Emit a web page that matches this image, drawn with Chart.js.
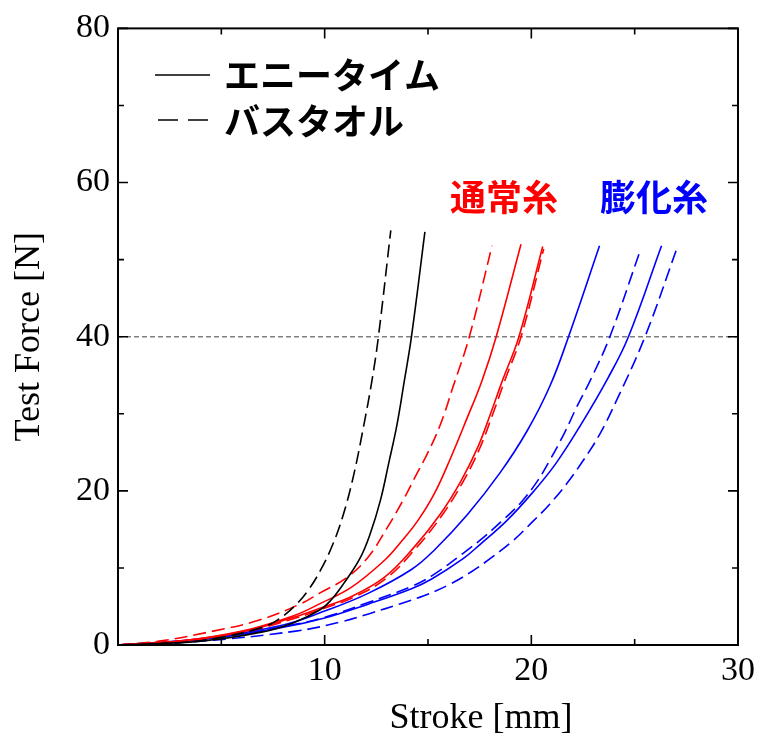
<!DOCTYPE html>
<html>
<head>
<meta charset="utf-8">
<script src="https://cdn.jsdelivr.net/npm/chart.js@4.4.1/dist/chart.umd.min.js"></script>
<style>
  html, body { margin: 0; padding: 0; background: #fff; }
</style>
</head>
<body>
<canvas id="force-chart" width="761" height="742"></canvas>
<script>
// values (stroke in mm, force in N)
const blackSolidX = [0, 4, 7, 8.5, 9.8, 10.3, 10.9, 11.7, 12.2, 12.7, 13.1, 13.5, 13.85, 14.2, 14.85];
const blackSolidY = [0, 0.5, 1.7, 2.9, 4.6, 5.8, 7.9, 11.2, 14.4, 18.8, 23.6, 28.6, 34.2, 40, 53.6];
const blackDashX = [0, 3, 5, 7, 7.8, 8.6, 9.2, 9.8, 10.4, 10.9, 11.4, 11.9, 12.3, 12.6, 13.2];
const blackDashY = [0, 0.3, 1.0, 2.3, 3.4, 5.2, 7.1, 9.7, 13.1, 16.9, 22.0, 28.6, 34.5, 40, 53.8];

const redDash1X = [0, 2, 4.6, 6.8, 8.8, 9.8, 11.1, 12.1, 13.0, 13.8, 14.3, 15.0, 15.6, 16.2, 17.0, 18.1];
const redDash1Y = [0, 0.5, 1.8, 3.2, 5.3, 6.8, 8.8, 11.4, 15.1, 18.8, 21.4, 25.0, 28.6, 33.4, 40, 51.8];
const redSolid1X = [0, 3, 6, 8.5, 9.8, 11.3, 12.9, 13.7, 14.5, 15.3, 16.1, 16.9, 17.6, 18.3, 19.5];
const redSolid1Y = [0, 0.5, 1.8, 3.8, 5.4, 7.5, 11.0, 13.4, 16.1, 19.6, 24.3, 29.5, 34.2, 40, 52];
const redSolid2X = [0, 3, 6, 8.5, 9.8, 11.3, 12.9, 14.3, 15.6, 16.6, 17.4, 18.0, 18.6, 19.4, 20.55];
const redSolid2Y = [0, 0.5, 1.7, 3.6, 4.8, 6.3, 8.8, 12.6, 17.0, 21.3, 25.6, 29.8, 34.3, 40, 51.7];
const redDash2X = [0, 3, 6, 8.6, 9.9, 11.4, 13.0, 14.4, 15.7, 16.7, 17.5, 18.1, 18.7, 19.5, 20.6];
const redDash2Y = [0, 0.5, 1.6, 3.5, 4.7, 6.2, 8.7, 12.5, 16.9, 21.2, 25.5, 29.7, 34.2, 40, 51.4];

const blueSolid1X = [0, 4, 8, 10.1, 12.1, 14.2, 15.3, 16.9, 18.5, 19.8, 20.9, 21.8, 23.3];
const blueSolid1Y = [0, 0.8, 2.6, 4.5, 6.7, 9.8, 12.3, 16.9, 22.4, 27.8, 33.6, 40, 51.8];
const blueSolid2X = [0, 4, 8, 10, 12.1, 14.2, 15.2, 16.7, 17.5, 18.8, 20.1, 21.2, 22.4, 23.7, 24.7, 26.3];
const blueSolid2Y = [0, 0.7, 2.3, 3.5, 5.3, 7.3, 8.6, 11.2, 13.0, 16.1, 19.9, 23.6, 28.6, 34.6, 40, 51.8];
const blueDash1X = [0, 4, 8, 10, 12.1, 14.2, 15.2, 16.7, 17.7, 18.5, 19.5, 20.3, 20.9, 21.6, 22.2, 22.9, 23.8, 25.3];
const blueDash1Y = [0, 0.7, 2.4, 3.6, 5.5, 7.6, 9.0, 11.9, 14.0, 15.9, 18.5, 21.3, 24.0, 27.5, 30.9, 34.6, 40, 51.4];
const blueDash2X = [0, 4, 8.6, 10.8, 12.2, 13.6, 14.8, 16.0, 17.1, 18.1, 19.1, 20.1, 20.9, 21.7, 22.5, 23.3, 24.1, 25.5, 27.1];
const blueDash2Y = [0, 0.5, 1.8, 3.0, 4.1, 5.3, 6.4, 7.8, 9.5, 11.4, 13.5, 16.1, 18.3, 20.9, 23.9, 27.3, 31.6, 40, 51.9];

const refForce = 40;
const xMajor = [0, 10, 20, 30];
const xMinor = [5, 15, 25];
const yMajor = [0, 20, 40, 60, 80];
const yMinor = [10, 30, 50, 70];

const xTitle = 'Stroke [mm]';
const yTitle = 'Test Force [N]';
const legendLabels = ['エニータイム', 'バスタオル'];
const groupLabels = ['通常糸', '膨化糸'];

const RED = '#ff0000';
const BLUE = '#0000ff';
const DASH = [13, 6];

const toPoints = (xs, ys) => xs.map((x, i) => ({ x, y: ys[i] }));

const curve = (xs, ys, color, dashed) => ({
  data: toPoints(xs, ys),
  borderColor: color,
  borderWidth: 1.6,
  borderDash: dashed ? DASH : [],
  pointRadius: 0,
  showLine: true,
  fill: false,
  tension: 0.4,
});

// inward ticks, frame, x title, legend and group labels
const decorations = {
  id: 'decorations',
  afterDatasetsDraw(chart) {
    const { ctx, chartArea: a, scales: { x, y } } = chart;
    ctx.save();
    ctx.strokeStyle = '#000';
    ctx.lineWidth = 2;
    ctx.strokeRect(a.left, a.top, a.right - a.left, a.bottom - a.top);

    const xTick = (v, len) => {
      const px = x.getPixelForValue(v);
      ctx.beginPath();
      ctx.moveTo(px, a.bottom); ctx.lineTo(px, a.bottom - len);
      ctx.moveTo(px, a.top); ctx.lineTo(px, a.top + len);
      ctx.stroke();
    };
    const yTick = (v, len) => {
      const py = y.getPixelForValue(v);
      ctx.beginPath();
      ctx.moveTo(a.left, py); ctx.lineTo(a.left + len, py);
      ctx.moveTo(a.right, py); ctx.lineTo(a.right - len, py);
      ctx.stroke();
    };
    ctx.lineWidth = 1.6;
    xMajor.forEach((v) => xTick(v, 10));
    xMinor.forEach((v) => xTick(v, 6));
    yMajor.forEach((v) => yTick(v, 10));
    yMinor.forEach((v) => yTick(v, 6));

    // x title sits right of centre in the original
    ctx.fillStyle = '#000';
    ctx.font = '36px "Liberation Serif"';
    ctx.textAlign = 'center';
    ctx.textBaseline = 'middle';
    ctx.fillText(xTitle, 481, 719);

    // legend
    ctx.lineWidth = 1.6;
    ctx.beginPath();
    ctx.moveTo(155, 75); ctx.lineTo(210, 75);
    ctx.stroke();
    ctx.setLineDash([20, 10]);
    ctx.beginPath();
    ctx.moveTo(158, 120); ctx.lineTo(210, 120);
    ctx.stroke();
    ctx.setLineDash([]);

    ctx.font = 'bold 36px "Noto Sans CJK JP"';
    ctx.textAlign = 'left';
    ctx.fillText(legendLabels[0], 224, 75);
    ctx.fillText(legendLabels[1], 224, 121);

    ctx.fillStyle = RED;
    ctx.fillText(groupLabels[0], 450, 197);
    ctx.fillStyle = BLUE;
    ctx.fillText(groupLabels[1], 600, 197);
    ctx.restore();
  },
};

const ctx = document.getElementById('force-chart');

new Chart(ctx, {
  type: 'scatter',
  data: {
    datasets: [
      curve(blackSolidX, blackSolidY, '#000', false),
      curve(blackDashX, blackDashY, '#000', true),
      curve(redDash1X, redDash1Y, RED, true),
      curve(redSolid1X, redSolid1Y, RED, false),
      curve(redSolid2X, redSolid2Y, RED, false),
      curve(redDash2X, redDash2Y, RED, true),
      curve(blueSolid1X, blueSolid1Y, BLUE, false),
      curve(blueSolid2X, blueSolid2Y, BLUE, false),
      curve(blueDash1X, blueDash1Y, BLUE, true),
      curve(blueDash2X, blueDash2Y, BLUE, true),
      {
        data: [{ x: 0, y: refForce }, { x: 30, y: refForce }],
        borderColor: '#808080',
        borderWidth: 1.5,
        borderDash: [5, 3],
        pointRadius: 0,
        showLine: true,
      },
    ],
  },
  options: {
    responsive: false,
    devicePixelRatio: 1,
    animation: false,
    layout: { padding: { top: 25, right: 23, left: 0, bottom: 0 } },
    plugins: {
      legend: { display: false },
      tooltip: { enabled: false },
    },
    scales: {
      x: {
        type: 'linear',
        min: 0,
        max: 30,
        afterFit: (s) => { s.height = 97; },
        grid: { display: false, drawTicks: false },
        border: { display: false },
        ticks: {
          stepSize: 10,
          padding: 6,
          color: '#000',
          font: { family: '"Liberation Serif"', size: 34 },
          callback: (v) => (v === 0 ? '' : v),
        },
      },
      y: {
        type: 'linear',
        min: 0,
        max: 80,
        afterFit: (s) => { s.width = 118; },
        grid: { display: false, drawTicks: false },
        border: { display: false },
        ticks: {
          stepSize: 20,
          padding: 8,
          color: '#000',
          font: { family: '"Liberation Serif"', size: 34 },
        },
        title: {
          display: true,
          text: yTitle,
          color: '#000',
          font: { family: '"Liberation Serif"', size: 36 },
          padding: { top: 8, bottom: 0 },
        },
      },
    },
  },
  plugins: [decorations],
});
</script>
</body>
</html>
